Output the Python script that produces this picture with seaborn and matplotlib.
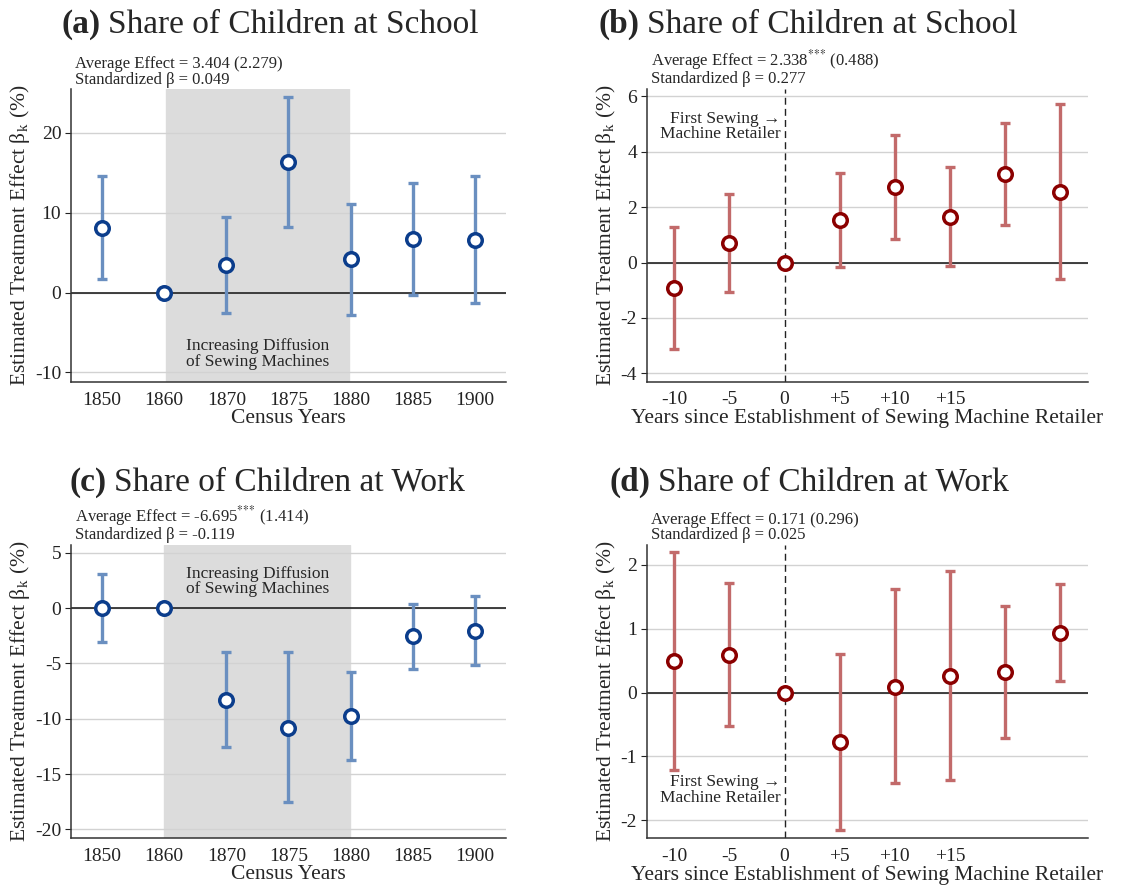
import pandas as pd
import seaborn as sns
import matplotlib.pyplot as plt

# panel (a) / (c): census years
census_years = ['1850', '1860', '1870', '1875', '1880', '1885', '1900']
school_a = [8.05, 0.0, 3.4, 16.3, 4.17, 6.67, 6.58]
school_a_lo = [1.67, 0.0, -2.5, 8.17, -2.75, -0.25, -1.33]
school_a_hi = [14.6, 0.0, 9.46, 24.5, 11.1, 13.67, 14.6]
work_c = [0.0, 0.0, -8.28, -10.8, -9.79, -2.56, -2.05]
work_c_lo = [-3.04, 0.0, -12.56, -17.56, -13.73, -5.54, -5.15]
work_c_hi = [3.04, 0.0, -4.0, -4.0, -5.81, 0.39, 1.05]

# panel (b) / (d): event time
event_years = [-10, -5, 0, 5, 10, 15, 20, 25]
event_ticks = [-10, -5, 0, 5, 10, 15]
event_labels = ['-10', '-5', '0', '+5', '+10', '+15']
school_b = [-0.92, 0.70, 0.0, 1.53, 2.73, 1.66, 3.19, 2.55]
school_b_lo = [-3.12, -1.08, 0.0, -0.16, 0.84, -0.11, 1.36, -0.58]
school_b_hi = [1.29, 2.48, 0.0, 3.23, 4.60, 3.46, 5.04, 5.71]
work_d = [0.49, 0.59, 0.0, -0.78, 0.094, 0.26, 0.32, 0.94]
work_d_lo = [-1.21, -0.53, 0.0, -2.16, -1.42, -1.37, -0.71, 0.18]
work_d_hi = [2.20, 1.71, 0.0, 0.60, 1.62, 1.90, 1.35, 1.70]

sns.set_style('white')
plt.rcParams['font.family'] = ['Liberation Serif', 'DejaVu Serif']
plt.rcParams['mathtext.fontset'] = 'stix'
plt.rcParams['axes.unicode_minus'] = False

BLUE_BAR, BLUE_PT = '#6a8fc0', '#0b3d8c'
RED_BAR, RED_PT = '#c26a6a', '#8b0000'
STARS = '$^{{*}{*}{*}}$'


def panel(ax, x, est, lo, hi, bar_col, pt_col, note):
    df = pd.DataFrame({'x': x, 'est': est, 'lo': lo, 'hi': hi})
    ax.errorbar(df['x'], df['est'],
                yerr=[df['est'] - df['lo'], df['hi'] - df['est']],
                fmt='none', ecolor=bar_col, elinewidth=2.4, capsize=3.5,
                capthick=2.4, zorder=3)
    sns.scatterplot(data=df, x='x', y='est', ax=ax, s=95, color='white',
                    edgecolor=pt_col, linewidth=2.5, zorder=5, legend=False)
    ax.axhline(0, color='#222222', lw=1.2, zorder=2)
    ax.grid(axis='y', color='#d2d2d2', lw=1)
    ax.set_axisbelow(True)
    for s in ['top', 'right']:
        ax.spines[s].set_visible(False)
    for s in ['left', 'bottom']:
        ax.spines[s].set_color('#333333')
        ax.spines[s].set_linewidth(1.1)
    ax.tick_params(axis='both', labelsize=14, colors='#222222', length=4,
                   direction='out', left=True, bottom=False, pad=3)
    ax.set_ylabel(r'Estimated Treatment Effect β$_\mathregular{k}$ (%)',
                  fontsize=15.5, labelpad=2)
    ax.text(0.01, 1.005, note, transform=ax.transAxes, fontsize=12,
            va='bottom', ha='left', linespacing=0.92)


fig = plt.figure(figsize=(11.23, 8.9), dpi=100)
ax_a = fig.add_axes([0.0632, 0.5708, 0.3874, 0.3292])
ax_b = fig.add_axes([0.5759, 0.5711, 0.3927, 0.3292])
ax_c = fig.add_axes([0.0632, 0.0581, 0.3874, 0.3296])
ax_d = fig.add_axes([0.5759, 0.0585, 0.3927, 0.3296])

# (a)
panel(ax_a, census_years, school_a, school_a_lo, school_a_hi, BLUE_BAR, BLUE_PT,
      'Average Effect = 3.404 (2.279)\nStandardized β = 0.049')
ax_a.axvspan(1.03, 3.97, color='#dcdcdc', zorder=0)
ax_a.set_xlim(-0.5, 6.5)
ax_a.set_ylim(-11.2, 25.5)
ax_a.set_yticks([-10, 0, 10, 20])
ax_a.text(2.5, -7.7, 'Increasing Diffusion\nof Sewing Machines', ha='center',
          va='center', fontsize=12.5, linespacing=0.95)
ax_a.set_xlabel('Census Years', fontsize=15.5, labelpad=0)

# (c)
panel(ax_c, census_years, work_c, work_c_lo, work_c_hi, BLUE_BAR, BLUE_PT,
      'Average Effect = -6.695' + STARS + ' (1.414)\nStandardized β = -0.119')
ax_c.axvspan(1.0, 3.99, color='#dcdcdc', zorder=0)
ax_c.set_xlim(-0.5, 6.5)
ax_c.set_ylim(-20.8, 5.7)
ax_c.set_yticks([-20, -15, -10, -5, 0, 5])
ax_c.text(2.5, 2.4, 'Increasing Diffusion\nof Sewing Machines', ha='center',
          va='center', fontsize=12.5, linespacing=0.95)
ax_c.set_xlabel('Census Years', fontsize=15.5, labelpad=0)

# (b), (d)
for ax, est, lo, hi, note, ylim, yt, ty in [
        (ax_b, school_b, school_b_lo, school_b_hi,
         'Average Effect = 2.338' + STARS + ' (0.488)\nStandardized β = 0.277',
         (-4.3, 6.27), [-4, -2, 0, 2, 4, 6], 4.9),
        (ax_d, work_d, work_d_lo, work_d_hi,
         'Average Effect = 0.171 (0.296)\nStandardized β = 0.025',
         (-2.28, 2.32), [-2, -1, 0, 1, 2], -1.53)]:
    panel(ax, event_years, est, lo, hi, RED_BAR, RED_PT, note)
    ax.axvline(0, color='#222222', lw=1, ls=(0, (5, 3)), zorder=1)
    ax.set_xlim(-12.5, 27.5)
    ax.set_ylim(*ylim)
    ax.set_yticks(yt)
    ax.set_xticks(event_ticks, event_labels)
    ax.text(-0.4, ty, 'First Sewing →\nMachine Retailer', ha='right',
            va='center', fontsize=12.5, linespacing=0.95)
    ax.set_xlabel('Years since Establishment of Sewing Machine Retailer',
                  fontsize=15.5, labelpad=0)

for x, y, tag, text in [(0.055, 0.963, '(a)', 'Share of Children at School'),
                        (0.533, 0.963, '(b)', 'Share of Children at School'),
                        (0.062, 0.449, '(c)', 'Share of Children at Work'),
                        (0.543, 0.449, '(d)', 'Share of Children at Work')]:
    t = fig.text(x, y, tag, fontsize=24, fontweight='bold', va='baseline')
    ax_a.annotate(text, xy=(1, 0), xycoords=t, xytext=(5, 0),
                  textcoords='offset points', fontsize=24, va='bottom',
                  annotation_clip=False)

fig.savefig('out.png', dpi=100)
